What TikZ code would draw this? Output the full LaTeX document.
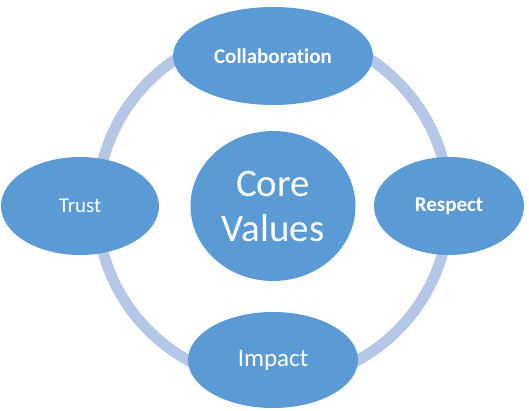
\documentclass[tikz,border=0pt]{standalone}
\usepackage{fontspec}
\setmainfont{Carlito}[RawFeature={-liga}]
\usetikzlibrary{shapes.geometric, positioning}

\definecolor{valueblue}{HTML}{5B9BD5}
\definecolor{ringblue}{HTML}{B4C7E7}

\begin{document}
\begin{tikzpicture}[x=1pt, y=-1pt, on grid,
    every node/.style={ellipse, fill=valueblue, text=white, inner sep=0pt, align=center},
    value/.style={minimum height=98pt, font=\fontsize{21}{25}\selectfont}]
    \useasboundingbox (0,0) rectangle (529,411);
    \coordinate (hub) at (273,206);
    \draw[ringblue, line width=11pt] (hub) circle[radius=176pt];
    \node (core) at (hub) [minimum width=165pt, minimum height=150pt, font=\fontsize{39}{45}\selectfont] {Core\\Values};
    \node (collab) [value, above=150pt of core, minimum width=200pt, font=\fontsize{21}{25}\selectfont\bfseries] {Collaboration};
    \node (trust) [value, left=193pt of core, minimum width=158pt] {Trust};
    \node (respect) [value, right=176pt of core, minimum width=150pt, font=\fontsize{21}{25}\selectfont\bfseries] {Respect};
    \node (impact) [value, below=154pt of core, minimum width=170pt, minimum height=96pt, font=\fontsize{25}{30}\selectfont] {Impact};
\end{tikzpicture}
\end{document}
